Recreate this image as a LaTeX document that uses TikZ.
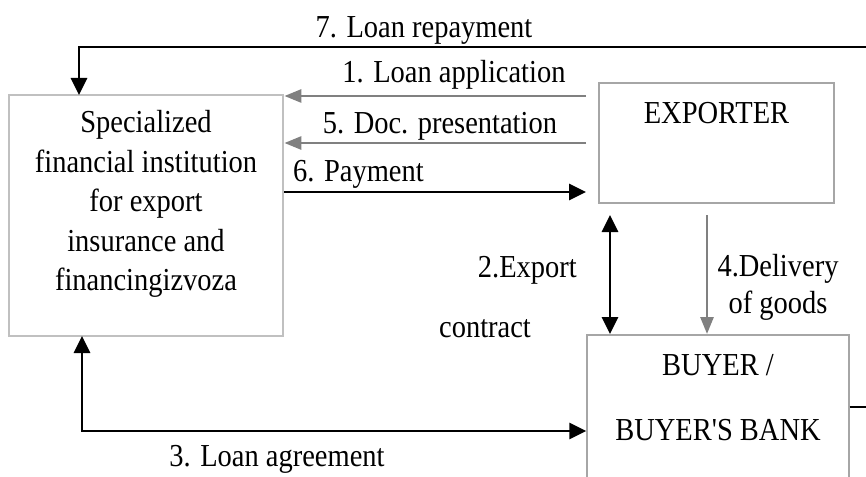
\documentclass[tikz,border=0pt]{standalone}
\usepackage{fontspec}
\setmainfont{Liberation Serif}[FakeStretch=0.89, Ligatures=TeXOff]
\usetikzlibrary{arrows.meta}
\definecolor{midgray}{RGB}{128,128,128}
\definecolor{boxgray}{RGB}{192,192,192}
\definecolor{thingray}{RGB}{166,166,166}
\tikzset{
  lbl/.style={font=\fontsize{32}{39.5}\selectfont, inner sep=0pt, text=black},
  blk/.style={line width=2.8pt, draw=black},
  gry/.style={line width=2.8pt, draw=midgray},
  btip/.style={-{Triangle[length=17pt,width=16pt]}},
  gtip/.style={-{Triangle[length=17pt,width=13pt]}},
  dtip/.style={{Triangle[length=17pt,width=16pt]}-{Triangle[length=17pt,width=16pt]}},
}
\begin{document}
\begin{tikzpicture}[x=1pt,y=-1pt]
\clip (0,0) rectangle (866,476);
\fill[white] (0,0) rectangle (866,476);
% boxes
\node[draw=boxgray, line width=2.8pt, minimum width=274pt, minimum height=241pt, inner sep=0pt] (fin) at (146,215.5) {};
\node[lbl, align=center] (fintext) at (146,204) {Specialized\\financial institution\\for export\\insurance and\\financingizvoza};
\node[draw=thingray, line width=1.3pt, minimum width=235pt, minimum height=120pt, inner sep=0pt] (exp) at (716.5,143) {};
\node[lbl] (exptext) at (716.5,113) {EXPORTER};
\node[draw=thingray, line width=1.3pt, minimum width=262pt, minimum height=200pt, inner sep=0pt] (buy) at (718,435) {};
\node[lbl] (buytext1) at (718,365) {BUYER /};
\node[lbl] (buytext2) at (718,430) {BUYER'S BANK};
% coordinates
\coordinate (c1s) at (586,96);
\coordinate (c5s) at (586,143);
\coordinate (c6e) at (586,192);
\coordinate (c2a) at (610,215);
\coordinate (c2b) at (610,334);
\coordinate (c4a) at (707,215);
\coordinate (c4b) at (707,334);
% arrows
\draw[gry, gtip] (c1s) -- (fin.east |- c1s);
\draw[gry, gtip] (c5s) -- (fin.east |- c5s);
\draw[blk, btip] (fin.east |- c6e) -- (c6e);
\draw[blk, dtip] (c2a) -- (c2b);
\draw[gry, gtip] (c4a) -- (c4b);
\draw[blk, dtip] (82,336) -- (82,431) -- (buy.west |- 0,431);
\draw[blk, btip] (buy.east |- 0,407) -- (885,407) -- (885,47) -- (79,47) -- (79,95);
% labels
\node[lbl] (l7) at (424,30) {7. Loan repayment};
\node[lbl] (l1) at (454,75) {1. Loan application};
\node[lbl] (l5) at (440,126) {5. Doc. presentation};
\node[lbl, anchor=west] (l6) at (293,174) {6. Payment};
\node[lbl, anchor=east] (l2) at (577,270) {2.Export};
\node[lbl] (l2b) at (485,329) {contract};
\node[lbl] (l4) at (778,269) {4.Delivery};
\node[lbl] (l4b) at (778,306) {of goods};
\node[lbl] (l3) at (277,459) {3. Loan agreement};
\end{tikzpicture}
\end{document}
